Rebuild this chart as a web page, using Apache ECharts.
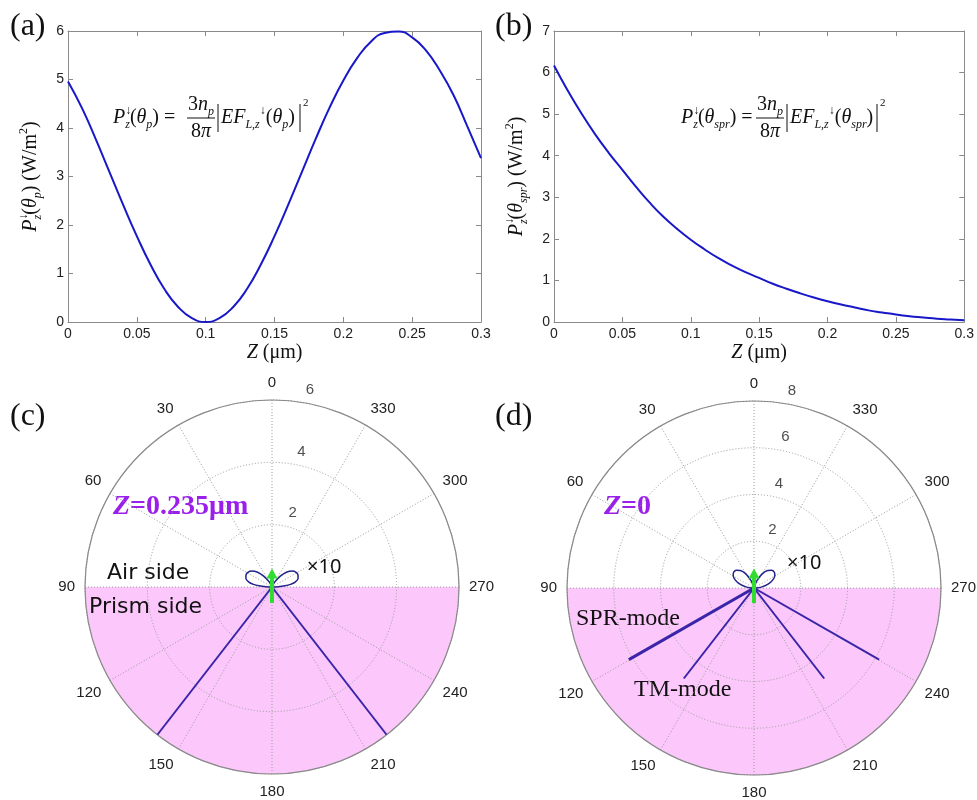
<!DOCTYPE html>
<html>
<head>
<meta charset="utf-8">
<script src="https://cdn.jsdelivr.net/npm/echarts@6/dist/echarts.min.js"></script>
<style>
html, body { margin: 0; padding: 0; background: #ffffff; }
#main { width: 977px; height: 800px; }
</style>
</head>
<body>
<div id="main"></div>
<script>
// Depth Z (µm) at which the emitted power is evaluated
const zValues = [0.00, 0.01, 0.02, 0.03, 0.04, 0.05, 0.06, 0.07, 0.08, 0.09,
                 0.10, 0.11, 0.12, 0.13, 0.14, 0.15, 0.16, 0.17, 0.18, 0.19,
                 0.20, 0.21, 0.22, 0.23, 0.24, 0.25, 0.26, 0.27, 0.28, 0.29, 0.30];
// (a) power into the prism at theta_p (W/m^2)
const powerThetaP = [4.96, 4.42, 3.78, 3.10, 2.42, 1.77, 1.18, 0.68, 0.31, 0.08,
                     0.00, 0.08, 0.31, 0.68, 1.18, 1.77, 2.42, 3.10, 3.78, 4.42,
                     4.98, 5.44, 5.78, 5.96, 5.99, 5.87, 5.60, 5.19, 4.68, 4.04, 3.38];
// (b) power into the prism at theta_spr (W/m^2)
const powerThetaSpr = [6.17, 5.57, 5.02, 4.52, 4.07, 3.66, 3.25, 2.87, 2.53, 2.24,
                       1.98, 1.75, 1.54, 1.36, 1.20, 1.06, 0.92, 0.80, 0.69, 0.59,
                       0.50, 0.42, 0.35, 0.28, 0.23, 0.18, 0.14, 0.11, 0.08, 0.06, 0.04];

// Polar plots: angle ticks (deg) and radial ring ticks
const angleTicks = [0, 30, 60, 90, 120, 150, 180, 210, 240, 270, 300, 330];
const radialTicksC = [2, 4, 6];
const radialTicksD = [2, 4, 6, 8];
// Prism half-space (angles)
const prismSide = [90, 270];

// Air-side dipole lobes (x10), angle from the surface normal and radius
const lobeAnglesC = [0, 20, 30, 38, 45, 52, 58, 65, 72, 78, 82, 85, 88, 90];
const lobeRadiiC  = [0, 0.05, 0.20, 0.45, 0.68, 0.83, 0.90, 0.92, 0.88, 0.76, 0.60, 0.42, 0.20, 0];
const lobeAnglesD = [0, 15, 22, 30, 38, 45, 52, 58, 64, 70, 76, 82, 86, 90];
const lobeRadiiD  = [0, 0.10, 0.35, 0.70, 0.95, 1.07, 1.10, 1.05, 0.95, 0.78, 0.58, 0.35, 0.18, 0];

// Prism-side emission peaks
const tmAngles = [142.2, 217.8];
const sprAngles = [119.8, 240.2];
const tmPeakC = 6.0;     // Z = 0.235 µm
const tmPeakD = 4.9;     // Z = 0
const sprPeakD = 6.17;   // Z = 0

// Dipole arrow: [radius, angle] of tail and head
const dipoleC = [[0.51, 180], [0.43, 0]];
const dipoleD = [[0.64, 180], [0.62, 0]];

const SERIF = 'Liberation Serif';
const SANS = 'Liberation Sans';
const INK = '#111111';
const AXIS_GREY = '#8a8a8a';
const GRID_GREY = '#9a9a9a';
const CURVE_BLUE = '#1818c8';
const SPIKE_BLUE = '#3a24a8';
const LOBE_BLUE = '#23238a';
const DIPOLE_GREEN = '#30dc30';
const PRISM_PINK = '#fcc8fb';
const PURPLE = '#9b1fea';

// ---------- rich text styles for math ----------
function mathRich(fs, fsSmall) {
  const base = { fontFamily: SERIF, color: INK, fill: INK, align: 'left' };
  return {
    i:  Object.assign({}, base, { fontStyle: 'italic', fontSize: fs, lineHeight: fs + 6 }),
    r:  Object.assign({}, base, { fontSize: fs, lineHeight: fs + 6 }),
    sb: Object.assign({}, base, { fontStyle: 'italic', fontSize: fsSmall, lineHeight: fsSmall + 1, verticalAlign: 'bottom' }),
    up: Object.assign({}, base, { fontSize: fsSmall, lineHeight: fsSmall + 1, verticalAlign: 'top', width: 0 }),
    su: Object.assign({}, base, { fontSize: fsSmall, lineHeight: fsSmall + 1, verticalAlign: 'top' })
  };
}
const richFormula = mathRich(20, 12);
const richAxis = mathRich(20, 12);

function yName(sub) {
  return '{i|P}{up|↓}{sb|z}{r|(}{i|θ}{sb|' + sub + '}{r|) (W/m}{su|2}{r|)}';
}
const xName = '{i|Z}{r| (μm)}';

// Formula block: P_z(θ) = 3n_p/8π |EF_{L,z}(θ)|^2
function formula(x, y, sub, p) {
  const line = (x1, y1, x2, y2) => ({
    type: 'line', shape: { x1: x1, y1: y1, x2: x2, y2: y2 },
    style: { stroke: INK, lineWidth: 1 }, silent: true
  });
  const txt = (tx, ty, text, align) => ({
    type: 'text', x: tx, y: ty, silent: true,
    style: { text: text, rich: richFormula, align: align, verticalAlign: 'middle', fill: INK,
             fontFamily: SERIF, fontSize: 20 }
  });
  return {
    type: 'group', x: x, y: y, silent: true,
    children: [
      txt(0, 0, '{i|P}{up|↓}{sb|z}{r|(}{i|θ}{sb|' + sub + '}{r|) =}', 'left'),
      txt(p.fracX, -13, '{r|3}{i|n}{sb|p}', 'center'),
      line(p.fracX - 14, 0, p.fracX + 14, 0),
      txt(p.fracX, 14, '{r|8}{i|π}', 'center'),
      line(p.barL, -14, p.barL, 14),
      txt(p.efX, 0, '{i|EF}{sb|L,z}{su|↓}{r|(}{i|θ}{sb|' + sub + '}{r|)}', 'left'),
      line(p.barR, -14, p.barR, 14),
      { type: 'text', x: p.barR + 3, y: -15, silent: true,
        style: { text: '2', fontFamily: SERIF, fontSize: 11, fill: INK, align: 'left', verticalAlign: 'middle' } }
    ]
  };
}

// ---------- Cartesian axes ----------
function xAxes(gridIndex) {
  const common = {
    gridIndex: gridIndex, type: 'value', min: 0, max: 0.3, interval: 0.05,
    axisLine: { show: true, onZero: false, lineStyle: { color: AXIS_GREY, width: 1 } },
    axisTick: { show: true, inside: true, length: 5, lineStyle: { color: AXIS_GREY } },
    splitLine: { show: false }
  };
  return [
    Object.assign({}, common, {
      position: 'bottom',
      axisLabel: { color: '#222', fontFamily: SANS, fontSize: 14, margin: 5 },
      name: xName, nameLocation: 'middle', nameGap: 18,
      nameTextStyle: { rich: richAxis, fontFamily: SERIF, fontSize: 20 }
    }),
    Object.assign({}, common, { position: 'top', axisLabel: { show: false } })
  ];
}
function yAxes(gridIndex, max, sub) {
  const common = {
    gridIndex: gridIndex, type: 'value', min: 0, max: max, interval: 1,
    axisLine: { show: true, onZero: false, lineStyle: { color: AXIS_GREY, width: 1 } },
    axisTick: { show: true, inside: true, length: 5, lineStyle: { color: AXIS_GREY } },
    splitLine: { show: false }
  };
  return [
    Object.assign({}, common, {
      position: 'left',
      axisLabel: { color: '#222', fontFamily: SANS, fontSize: 14, margin: 4 },
      name: yName(sub), nameLocation: 'middle', nameGap: 24, nameRotate: 90,
      nameTextStyle: { rich: richAxis, fontFamily: SERIF, fontSize: 20 }
    }),
    Object.assign({}, common, { position: 'right', axisLabel: { show: false } })
  ];
}

// ---------- Polar axes ----------
function angleAxis(polarIndex) {
  return {
    polarIndex: polarIndex, type: 'value', min: 0, max: 360, interval: 30,
    startAngle: 90, clockwise: false,
    axisLine: { show: true, lineStyle: { color: AXIS_GREY, width: 1.2 } },
    axisTick: { show: false },
    axisLabel: {
      color: '#222', fontFamily: SANS, fontSize: 15, margin: 10,
      formatter: v => (angleTicks.indexOf(v) >= 0 ? String(v) : '')
    },
    splitLine: { show: true, lineStyle: { color: GRID_GREY, type: [1, 2], width: 1 } }
  };
}
function radiusAxis(polarIndex, max) {
  return {
    polarIndex: polarIndex, type: 'value', min: 0, max: max, interval: 2,
    axisLine: { show: false }, axisTick: { show: false }, axisLabel: { show: false },
    splitLine: { show: true, lineStyle: { color: GRID_GREY, type: [1, 2], width: 1 } }
  };
}

// ---------- Polar series ----------
function prismShade(polarIndex) {
  return {
    type: 'custom', coordinateSystem: 'polar', polarIndex: polarIndex, z: -1, silent: true,
    data: [[0, prismSide[0], prismSide[1]]],
    renderItem: function (params, api) {
      const cs = params.coordSys;
      const toScreen = a => -(90 + a) * Math.PI / 180;
      return {
        type: 'sector',
        shape: { cx: cs.cx, cy: cs.cy, r0: 0, r: cs.r,
                 startAngle: toScreen(prismSide[1]), endAngle: toScreen(prismSide[0]), clockwise: true },
        style: { fill: PRISM_PINK }
      };
    }
  };
}
function lobes(polarIndex, angles, radii) {
  const left = angles.map((a, i) => [radii[i], a]);
  const right = angles.slice().reverse().map((a, i) => [radii[radii.length - 1 - i], 360 - a]);
  return {
    type: 'line', coordinateSystem: 'polar', polarIndex: polarIndex, silent: true,
    data: left.concat(right), symbol: 'none', smooth: 0.25,
    lineStyle: { color: LOBE_BLUE, width: 1.5 }, z: 3
  };
}
function spike(polarIndex, angle, peak, width) {
  return {
    type: 'line', coordinateSystem: 'polar', polarIndex: polarIndex, silent: true,
    data: [[0, angle], [peak, angle]], symbol: 'none',
    lineStyle: { color: SPIKE_BLUE, width: width }, z: 3
  };
}
function dipole(polarIndex, pts) {
  return {
    type: 'line', coordinateSystem: 'polar', polarIndex: polarIndex, silent: true, z: 5,
    data: [
      { value: pts[0], symbol: 'none' },
      { value: pts[1], symbol: 'triangle', symbolSize: [11, 10] }
    ],
    showAllSymbol: true,
    itemStyle: { color: DIPOLE_GREEN },
    lineStyle: { color: DIPOLE_GREEN, width: 4 }
  };
}
function ringLabels(polarIndex, ticks) {
  return {
    type: 'scatter', coordinateSystem: 'polar', polarIndex: polarIndex, silent: true,
    data: ticks.map(v => [v, 352]), symbolSize: 0,
    label: { show: true, position: 'inside', offset: [12, -12], formatter: p => String(p.value[0]),
             color: '#222', fontFamily: SANS, fontSize: 15 }
  };
}

// ---------- free text ----------
function label(x, y, text, font, extra) {
  return Object.assign({
    type: 'text', x: x, y: y, silent: true,
    style: Object.assign({ text: text, fill: INK, align: 'left', verticalAlign: 'middle' }, font)
  }, extra || {});
}
const panelFont = { fontFamily: SERIF, fontSize: 32 };
const sideFont = { fontFamily: 'DejaVu Sans', fontSize: 22 };
const timesFont = { fontFamily: 'Noto Sans', fontSize: 20 };
const modeFont = { fontFamily: SERIF, fontSize: 24 };
const richZ = {
  zi: { fontFamily: SERIF, fontSize: 28, fontWeight: 'bold', fontStyle: 'italic', fill: PURPLE, color: PURPLE },
  zb: { fontFamily: SERIF, fontSize: 28, fontWeight: 'bold', fill: PURPLE, color: PURPLE }
};

const chart = echarts.init(document.getElementById('main'), null, { renderer: 'canvas' });
chart.setOption({
  animation: false,
  backgroundColor: '#ffffff',
  grid: [
    { left: 68, top: 31, width: 413, height: 291 },
    { left: 554, top: 31, width: 412, height: 291 }
  ],
  xAxis: xAxes(0).concat(xAxes(1)),
  yAxis: yAxes(0, 6, 'p').concat(yAxes(1, 7, 'spr')),
  polar: [
    { center: [272, 587], radius: 187 },
    { center: [754, 588], radius: 187 }
  ],
  angleAxis: [angleAxis(0), angleAxis(1)],
  radiusAxis: [radiusAxis(0, 6), radiusAxis(1, 8)],
  series: [
    { type: 'line', xAxisIndex: 0, yAxisIndex: 0, data: zValues.map((z, i) => [z, powerThetaP[i]]),
      symbol: 'none', smooth: 0.5, lineStyle: { color: CURVE_BLUE, width: 2 } },
    { type: 'line', xAxisIndex: 2, yAxisIndex: 2, data: zValues.map((z, i) => [z, powerThetaSpr[i]]),
      symbol: 'none', smooth: 0.5, lineStyle: { color: CURVE_BLUE, width: 2 } },

    prismShade(0),
    spike(0, tmAngles[0], tmPeakC, 2), spike(0, tmAngles[1], tmPeakC, 2),
    lobes(0, lobeAnglesC, lobeRadiiC),
    dipole(0, dipoleC),
    ringLabels(0, radialTicksC),

    prismShade(1),
    spike(1, sprAngles[0], sprPeakD, 3), spike(1, sprAngles[1], sprPeakD, 2),
    spike(1, tmAngles[0], tmPeakD, 2), spike(1, tmAngles[1], tmPeakD, 2),
    lobes(1, lobeAnglesD, lobeRadiiD),
    dipole(1, dipoleD),
    ringLabels(1, radialTicksD)
  ],
  graphic: [
    label(10, 27, '(a)', panelFont),
    label(495, 27, '(b)', panelFont),
    label(10, 417, '(c)', panelFont),
    label(495, 417, '(d)', panelFont),
    formula(113, 118, 'p', { fracX: 88, barL: 105, efX: 108, barR: 187 }),
    formula(681, 118, 'spr', { fracX: 89, barL: 106, efX: 109, barR: 196 }),
    label(113, 507, '{zi|Z}{zb|=0.235μm}', { rich: richZ, fontFamily: SERIF, fontSize: 28 }),
    label(604, 507, '{zi|Z}{zb|=0}', { rich: richZ, fontFamily: SERIF, fontSize: 28 }),
    label(107, 573, 'Air side', sideFont),
    label(89, 607, 'Prism side', sideFont),
    label(307, 567, '×10', timesFont),
    label(787, 563, '×10', timesFont),
    label(576, 619, 'SPR-mode', modeFont),
    label(634, 690, 'TM-mode', modeFont)
  ]
});
</script>
</body>
</html>
